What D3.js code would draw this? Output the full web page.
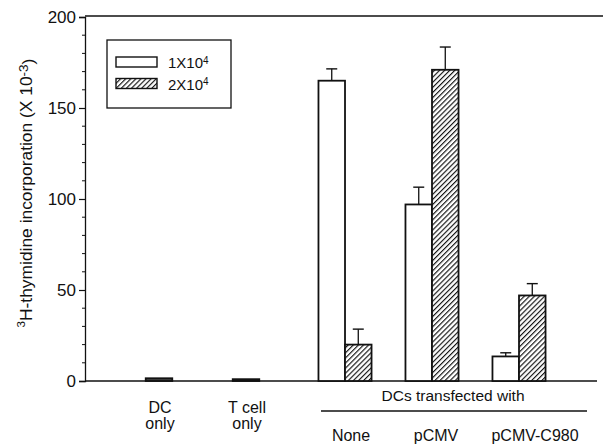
<!DOCTYPE html>
<html><head><meta charset="utf-8">
<script src="https://cdn.jsdelivr.net/npm/d3@7"></script>
<style>body{margin:0;background:#fff}svg text{font-family:"Liberation Sans",Arial,sans-serif;fill:#111}</style>
</head><body><svg id="c" width="603" height="444"></svg>
<script>
// ---- data ----
const controlCats = ["DC\nonly", "T cell\nonly"];
const controlVals = [1.5, 1.0];
const groupCats = ["None", "pCMV", "pCMV-C980"];
const series = ["1X10^4", "2X10^4"];
const vals1 = [165, 97, 13.5];
const err1 = [6.5, 9.5, 2];
const vals2 = [20, 171, 47];
const err2 = [8.5, 12.5, 6.5];
const yTicks = [0, 50, 100, 150, 200];

// ---- layout ----
const svg = d3.select("#c");
const X0 = 85, Y0 = 381, YT = 17;
const y = d3.scaleLinear().domain([0, 200]).range([Y0, YT]);
const x = d3.scaleLinear().domain([0, 4]).range([159, 507]);
const gap = 0.138;
const bw = 0.305; // bar width in x units
const pos = i => i + (i >= 2 ? gap : 0);

const defs = svg.append("defs");
const pat = defs.append("pattern").attr("id", "hatch").attr("patternUnits", "userSpaceOnUse")
  .attr("width", 3.6).attr("height", 3.6).attr("patternTransform", "rotate(45)");
pat.append("rect").attr("width", 3.6).attr("height", 3.6).attr("fill", "#fff");
pat.append("line").attr("x1", 0).attr("y1", 0).attr("x2", 0).attr("y2", 3.6)
  .attr("stroke", "#111").attr("stroke-width", 2.3);

// axes lines
svg.append("line").attr("x1", X0).attr("x2", 603).attr("y1", YT - 1).attr("y2", YT - 1)
  .attr("stroke", "#111").attr("stroke-width", 1.3);
svg.append("line").attr("x1", X0).attr("x2", 597).attr("y1", Y0).attr("y2", Y0)
  .attr("stroke", "#111").attr("stroke-width", 1.3);

const yAxis = d3.axisLeft(y).tickValues(yTicks).tickSize(6).tickPadding(3);
const gy = svg.append("g").attr("transform", `translate(${X0},0)`).call(yAxis);
gy.select(".domain").attr("stroke", "#111").attr("stroke-width", 1.3);
gy.selectAll(".tick line").attr("stroke", "#111").attr("stroke-width", 1.2);
gy.selectAll("text").style("font-size", "17px").attr("fill", "#111");
const minor = d3.range(10, 200, 10).filter(v => v % 50 !== 0);
svg.append("g").selectAll("line").data(minor).join("line")
  .attr("x1", X0 - 3).attr("x2", X0).attr("y1", d => y(d)).attr("y2", d => y(d))
  .attr("stroke", "#111").attr("stroke-width", 1);

// y title
const yt = svg.append("text").attr("transform", "translate(30,193) rotate(-90)")
  .attr("text-anchor", "middle").style("font-size", "17.4px");
yt.append("tspan").attr("dy", "-0.4em").style("font-size", "11.5px").text("3");
yt.append("tspan").attr("dy", "0.4em").text("H-thymidine incorporation (X 10");
yt.append("tspan").attr("dy", "-0.35em").style("font-size", "13.5px").text("-3");
yt.append("tspan").attr("dy", "0.35em").text(")");

function bar(xl, v, fill) {
  svg.append("rect").attr("x", x(xl)).attr("width", x(xl + bw) - x(xl))
    .attr("y", y(v)).attr("height", y(0) - y(v)).attr("fill", fill)
    .attr("stroke", "#111").attr("stroke-width", 1.8);
}
function errbar(xc, v, e) {
  svg.append("line").attr("x1", x(xc)).attr("x2", x(xc)).attr("y1", y(v)).attr("y2", y(v + e))
    .attr("stroke", "#111").attr("stroke-width", 1.3);
  svg.append("line").attr("x1", x(xc) - 5.5).attr("x2", x(xc) + 5.5).attr("y1", y(v + e)).attr("y2", y(v + e))
    .attr("stroke", "#111").attr("stroke-width", 1.4);
}

// control bars
controlVals.forEach((v, i) => bar(pos(i) - bw / 2, v, "#444"));
// grouped bars
groupCats.forEach((c, j) => {
  const p = pos(j + 2);
  bar(p - bw, vals1[j], "#fff");
  errbar(p - bw / 2, vals1[j], err1[j]);
  bar(p, vals2[j], "url(#hatch)");
  errbar(p + bw / 2, vals2[j], err2[j]);
});

// x labels
controlCats.forEach((c, i) => {
  const t = svg.append("text").attr("x", x(pos(i)) + 1).attr("y", 413).attr("text-anchor", "middle").style("font-size", "16px");
  c.split("\n").forEach((s, k) => t.append("tspan").attr("x", x(pos(i)) + 1).attr("dy", k ? 16 : 0).text(s));
});
svg.append("text").attr("x", 453).attr("y", 401).attr("text-anchor", "middle").style("font-size", "15.5px").text("DCs transfected with");
svg.append("line").attr("x1", 321).attr("x2", 587).attr("y1", 411).attr("y2", 411).attr("stroke", "#111").attr("stroke-width", 1.3);
const labOff = [6, 4, 16];
groupCats.forEach((c, j) => {
  svg.append("text").attr("x", x(pos(j + 2)) + labOff[j]).attr("y", 441).attr("text-anchor", "middle")
    .style("font-size", "16px").text(c);
});

// legend
svg.append("rect").attr("x", 107).attr("y", 40).attr("width", 124).attr("height", 68)
  .attr("fill", "none").attr("stroke", "#111").attr("stroke-width", 1.3);
[["#fff", series[0]], ["url(#hatch)", series[1]]].forEach(([f, s], k) => {
  svg.append("rect").attr("x", 116).attr("y", 57 + k * 21.5).attr("width", 41).attr("height", 10)
    .attr("fill", f).attr("stroke", "#111").attr("stroke-width", 1.4);
  const [base, ex] = s.split("^");
  const t = svg.append("text").attr("x", 168).attr("y", 68 + k * 21.5).style("font-size", "15px");
  t.append("tspan").text(base);
  t.append("tspan").attr("dy", "-0.45em").style("font-size", "10px").text(ex);
});
</script></body></html>
